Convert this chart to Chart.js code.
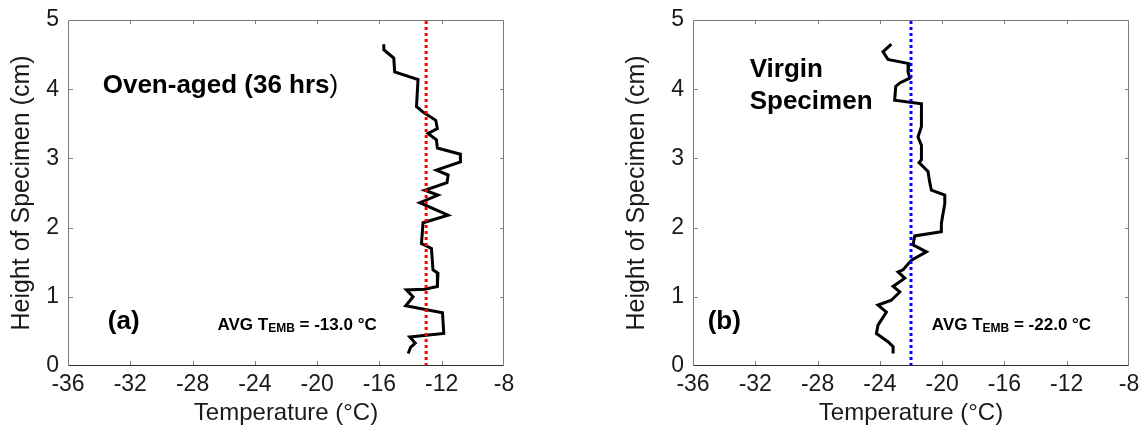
<!DOCTYPE html>
<html lang="en">
<head>
<meta charset="UTF-8">
<title>Perfil de temperatura</title>
<script src="https://cdn.jsdelivr.net/npm/chart.js"></script>
<style>
    body { margin: 0; background: #fff; }
    .painel { position: absolute; top: 0; width: 570px; height: 433px; }
</style>
</head>
<body>

<div class="painel" style="left:0"><canvas id="grafico-a" width="570" height="433"></canvas></div>
<div class="painel" style="left:570px"><canvas id="grafico-b" width="570" height="433"></canvas></div>

<script>
    // (a) oven-aged 36 hrs
    const ovenTemp = [-15.72, -15.72, -15.08, -15.02, -13.52, -13.62, -13.20, -12.38, -12.28, -12.88, -12.34, -12.28,
        -10.80, -10.80, -12.34, -11.59, -11.66, -13.09, -12.24, -13.41, -11.59, -13.20, -13.30, -12.66, -12.56,
        -12.24, -12.28, -13.09, -14.27, -13.84, -14.31, -11.95, -11.87, -14.05, -13.70, -14.00, -14.15];
    const ovenHeight = [4.65, 4.57, 4.45, 4.25, 4.14, 3.75, 3.67, 3.55, 3.43, 3.36, 3.27, 3.15,
        3.06, 2.95, 2.83, 2.76, 2.65, 2.54, 2.47, 2.36, 2.18, 2.07, 1.77, 1.70, 1.39,
        1.34, 1.15, 1.11, 1.10, 1.00, 0.87, 0.77, 0.47, 0.42, 0.33, 0.27, 0.18];
    const ovenAvg = -13.0;

    // (b) virgin specimen
    const virginTemp = [-23.26, -23.80, -23.48, -22.13, -22.19, -22.08, -22.72, -22.98, -23.05, -21.33, -21.33, -21.55,
        -21.33, -21.33, -21.48, -20.91, -20.80, -20.69, -19.83, -19.83, -20.05, -20.05, -21.76, -21.87, -21.01,
        -21.97, -22.51, -22.83, -22.40, -23.15, -22.72, -23.26, -24.12, -23.58, -24.12, -24.22, -23.48, -23.15, -23.15];
    const virginHeight = [4.65, 4.54, 4.43, 4.37, 4.25, 4.16, 4.09, 4.04, 3.84, 3.79, 3.46, 3.31,
        3.19, 2.98, 2.94, 2.81, 2.66, 2.54, 2.47, 2.35, 2.06, 1.94, 1.88, 1.75, 1.65,
        1.53, 1.39, 1.36, 1.27, 1.15, 1.07, 0.95, 0.88, 0.78, 0.59, 0.47, 0.35, 0.28, 0.18];
    const virginAvg = -22.0;

    const xTicks = [-36, -32, -28, -24, -20, -16, -12, -8];
    const yTicks = [0, 1, 2, 3, 4, 5];

    const fonte = "'Liberation Sans', Arial, sans-serif";

    function pontos(xs, ys) {
        return xs.map((v, i) => ({ x: v, y: ys[i] }));
    }

    // caixa + marcas de escala para dentro (estilo matlab)
    const moldura = {
        id: 'moldura',
        afterDraw(chart) {
            const { ctx, chartArea: a } = chart;
            const sx = chart.scales.x, sy = chart.scales.y;
            ctx.save();
            ctx.lineWidth = 1;
            ctx.strokeStyle = '#808080';
            ctx.beginPath();
            xTicks.slice(1, -1).forEach(t => {
                const px = Math.round(sx.getPixelForValue(t)) + 0.5;
                ctx.moveTo(px, a.bottom); ctx.lineTo(px, a.bottom - 5);
                ctx.moveTo(px, a.top); ctx.lineTo(px, a.top + 4);
            });
            yTicks.slice(1, -1).forEach(t => {
                const py = Math.round(sy.getPixelForValue(t)) + 0.5;
                ctx.moveTo(a.left, py); ctx.lineTo(a.left + 5, py);
                ctx.moveTo(a.right, py); ctx.lineTo(a.right - 4, py);
            });
            ctx.stroke();

            const l = Math.round(a.left) + 0.5, r = Math.round(a.right) - 0.5;
            const t = Math.round(a.top) + 0.5, b = Math.round(a.bottom) - 0.5;
            ctx.strokeStyle = '#7a7a7a';
            ctx.beginPath();
            ctx.moveTo(l, b); ctx.lineTo(l, t); ctx.lineTo(r, t); ctx.lineTo(r, b);
            ctx.stroke();
            ctx.strokeStyle = '#303030';
            ctx.beginPath();
            ctx.moveTo(l, b); ctx.lineTo(r, b);
            ctx.stroke();

            // textos
            ctx.fillStyle = '#000';
            ctx.textBaseline = 'middle';
            ctx.textAlign = 'left';
            chart.options.textos.forEach(txt => {
                let px = sx.getPixelForValue(txt.x);
                const py = sy.getPixelForValue(txt.y);
                txt.partes.forEach(p => {
                    ctx.font = p.font;
                    ctx.fillText(p.s, px, py + (p.dy || 0));
                    px += ctx.measureText(p.s).width;
                });
            });
            ctx.restore();
        }
    };

    function avgPartes(valor) {
        return [
            { s: 'AVG T', font: 'bold 17px ' + fonte },
            { s: 'EMB', font: 'bold 12px ' + fonte, dy: 4 },
            { s: ' = ' + valor.toFixed(1) + ' \u00B0C', font: 'bold 17px ' + fonte }
        ];
    }

    function montaGrafico(id, temps, alturas, media, corMedia, textos, cfg) {
        const ctx = document.getElementById(id).getContext('2d');
        return new Chart(ctx, {
            type: 'scatter',
            data: {
                datasets: [{
                    data: [{ x: media, y: 0 }, { x: media, y: 5 }],
                    showLine: true,
                    borderColor: corMedia,
                    borderWidth: 3,
                    borderDash: [3, 3],
                    pointRadius: 0
                }, {
                    data: pontos(temps, alturas),
                    showLine: true,
                    borderColor: '#000',
                    borderWidth: 3,
                    pointRadius: 0,
                    borderJoinStyle: 'miter'
                }]
            },
            options: {
                responsive: false,
                animation: false,
                events: [],
                textos: textos,
                layout: { padding: { left: cfg.padLeft, right: cfg.padRight, top: 20, bottom: 0 } },
                plugins: { legend: { display: false }, tooltip: { enabled: false } },
                scales: {
                    x: {
                        type: 'linear', min: -36, max: -8,
                        afterBuildTicks: s => { s.ticks = xTicks.map(v => ({ value: v })); },
                        afterFit: s => { s.height = 67; s.paddingLeft = 0; s.paddingRight = 0; },
                        grid: { display: false, drawTicks: false },
                        border: { display: false },
                        ticks: { color: '#1a1a1a', padding: 5, font: { family: fonte, size: 23 }, maxRotation: 0 },
                        title: { display: true, text: 'Temperature (\u00B0C)', color: '#1a1a1a', padding: { top: 0, bottom: 5 }, font: { family: fonte, size: 24 } }
                    },
                    y: {
                        type: 'linear', min: 0, max: 5,
                        afterBuildTicks: s => { s.ticks = yTicks.map(v => ({ value: v })); },
                        afterFit: s => { s.width = cfg.yWidth; s.paddingTop = 0; s.paddingBottom = 0; },
                        grid: { display: false, drawTicks: false },
                        border: { display: false },
                        ticks: { color: '#1a1a1a', padding: 9, font: { family: fonte, size: 23 } },
                        title: { display: true, text: 'Height of Specimen (cm)', color: '#1a1a1a', padding: { top: cfg.titlePad, bottom: 0 }, font: { family: fonte, size: 25 } }
                    }
                }
            },
            plugins: [moldura]
        });
    }

    montaGrafico('grafico-a', ovenTemp, ovenHeight, ovenAvg, '#ff0000', [
        { x: -33.77, y: 4.05, partes: [{ s: 'Oven-aged (36 hrs', font: 'bold 26px ' + fonte }, { s: ')', font: '26px ' + fonte }] },
        { x: -33.44, y: 0.64, partes: [{ s: '(a)', font: 'bold 26px ' + fonte }] },
        { x: -26.4, y: 0.59, partes: avgPartes(ovenAvg) }
    ], { padLeft: 0, padRight: 66, yWidth: 68, titlePad: 7 });

    montaGrafico('grafico-b', virginTemp, virginHeight, virginAvg, '#0000ff', [
        { x: -32.36, y: 4.28, partes: [{ s: 'Virgin', font: 'bold 26px ' + fonte }] },
        { x: -32.36, y: 3.82, partes: [{ s: 'Specimen', font: 'bold 26px ' + fonte }] },
        { x: -35.06, y: 0.64, partes: [{ s: '(b)', font: 'bold 26px ' + fonte }] },
        { x: -20.66, y: 0.59, partes: avgPartes(virginAvg) }
    ], { padLeft: 40, padRight: 11, yWidth: 83, titlePad: 12 });
</script>
</body>
</html>
